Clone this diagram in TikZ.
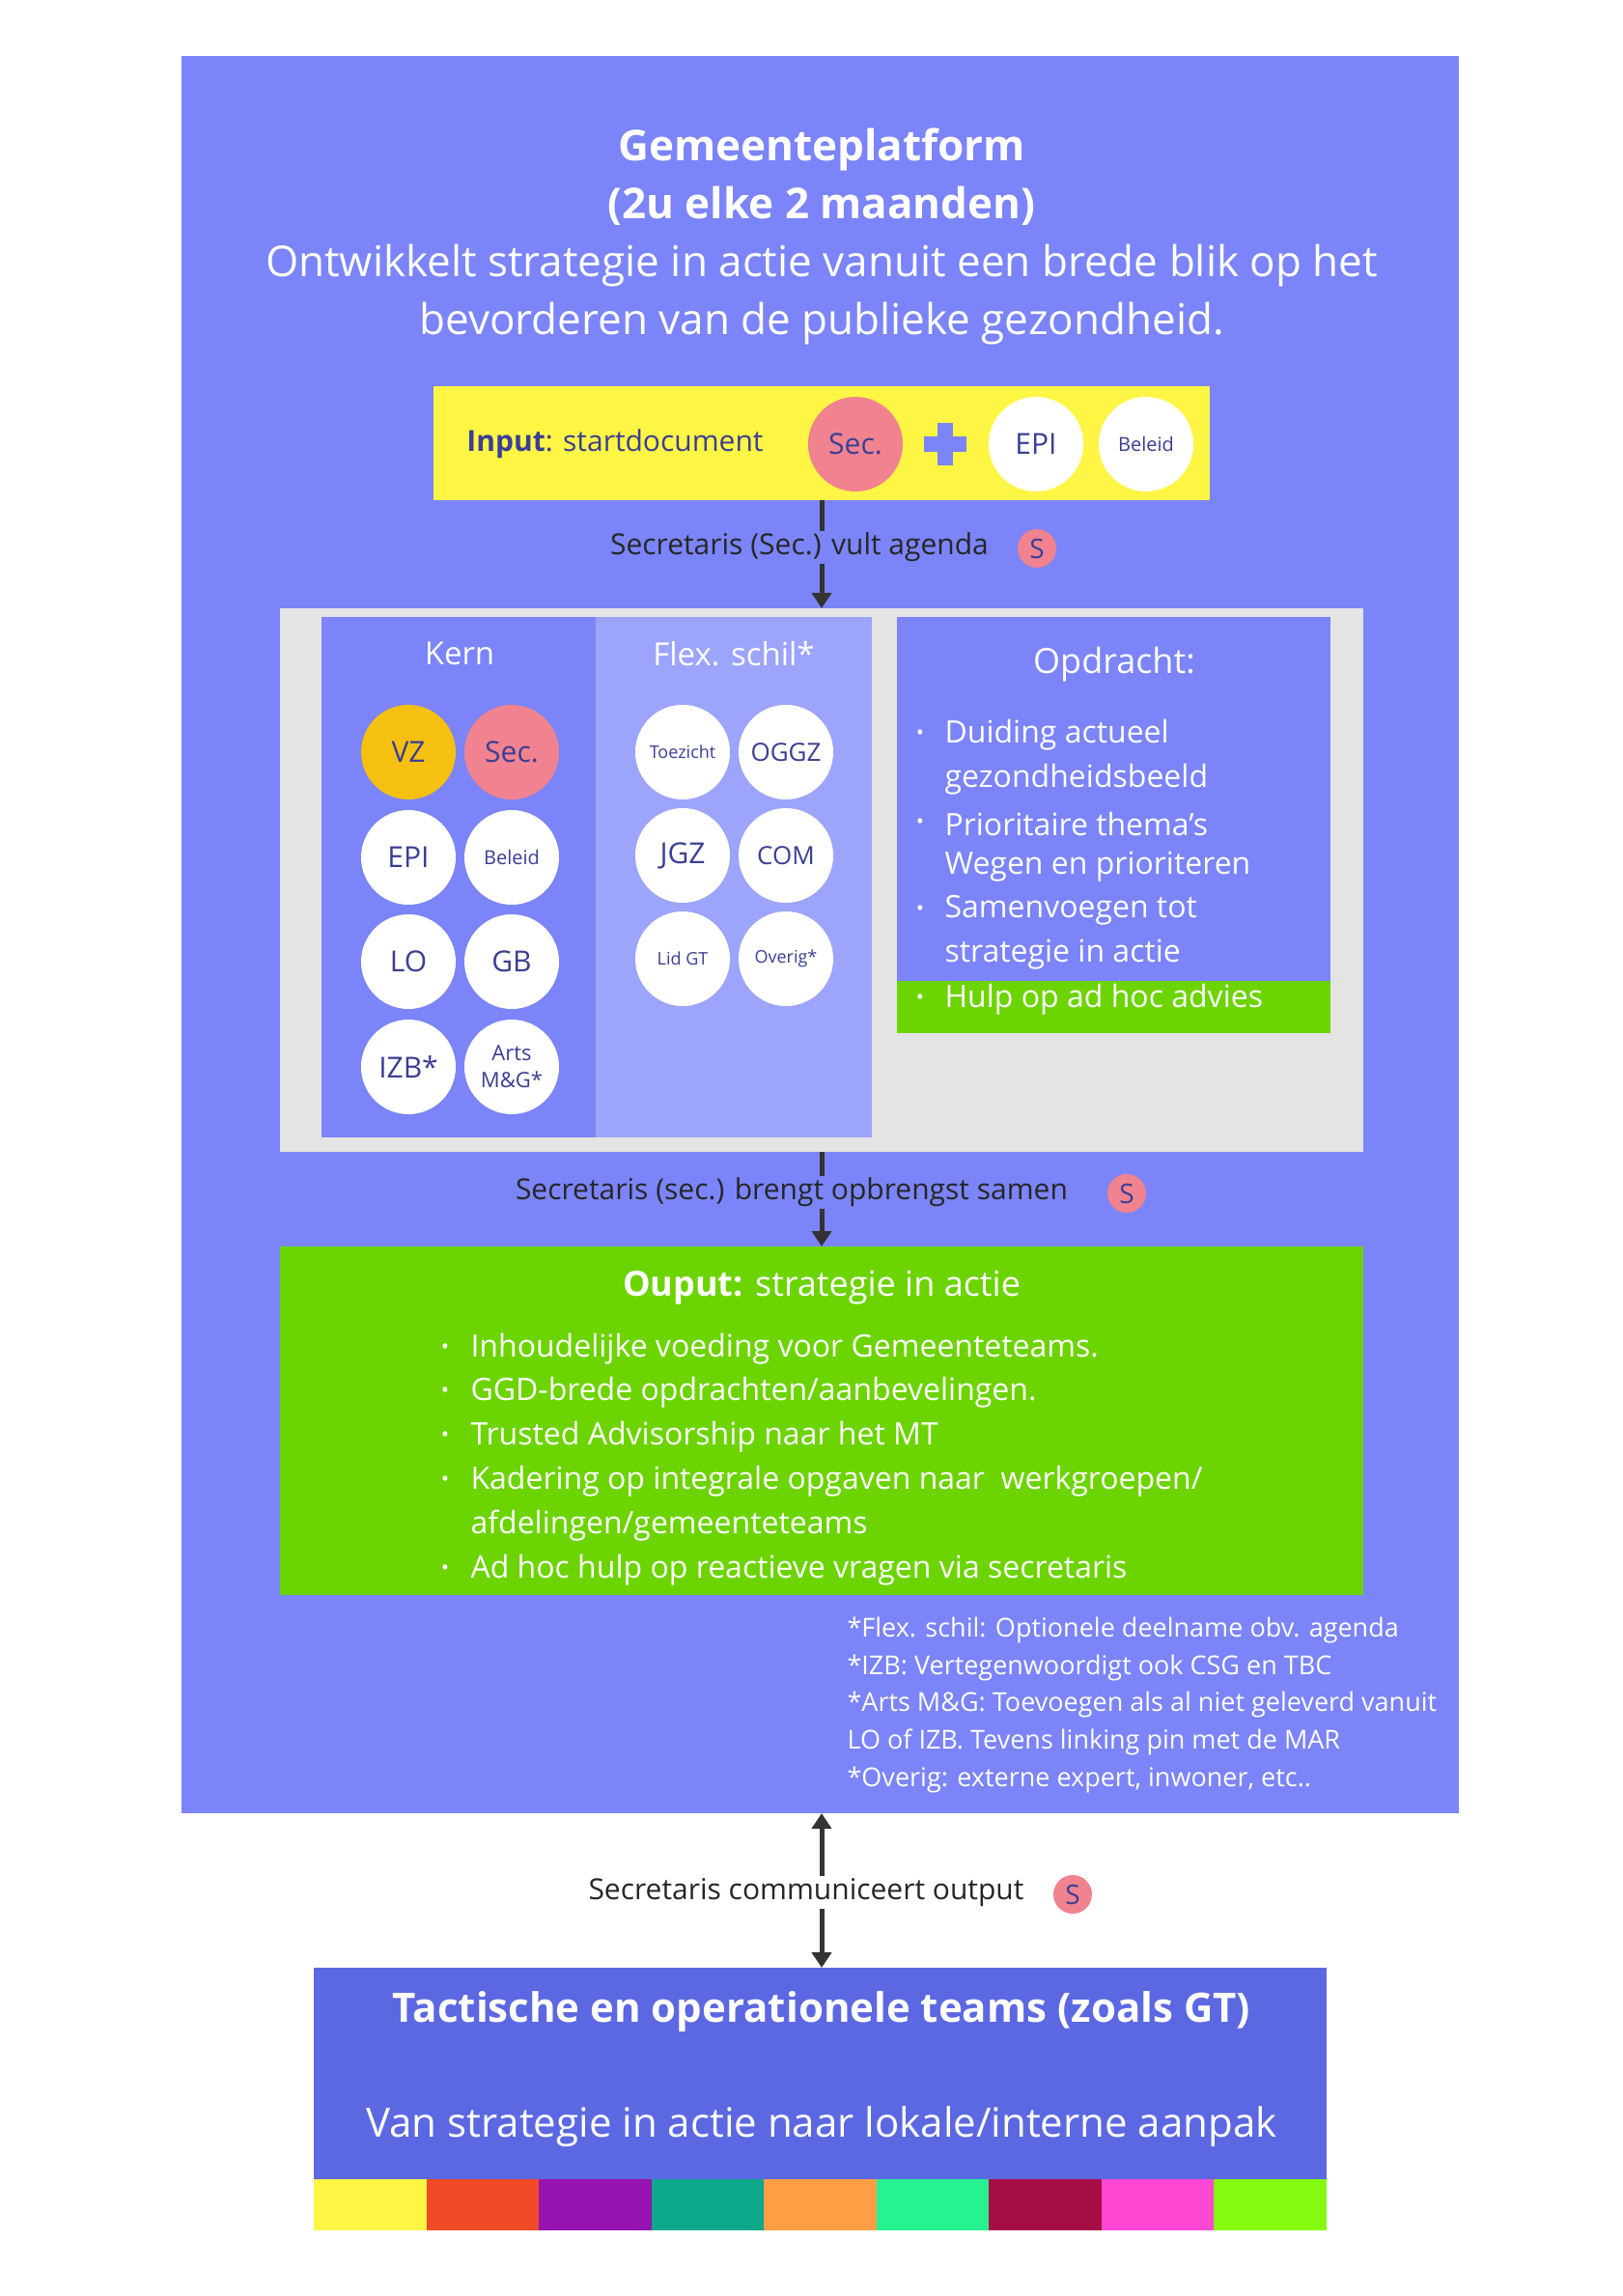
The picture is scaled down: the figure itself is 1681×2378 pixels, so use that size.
\documentclass[tikz,border=0pt]{standalone}
\usepackage{fontspec}
\setmainfont{Open Sans}
\usetikzlibrary{arrows.meta}
\definecolor{mainb}{HTML}{7B84F8}
\definecolor{flexb}{HTML}{9DA4FB}
\definecolor{grayb}{HTML}{E4E4E4}
\definecolor{yel}{HTML}{FFF544}
\definecolor{pinkc}{HTML}{F0838F}
\definecolor{gold}{HTML}{F5C010}
\definecolor{grn}{HTML}{6CD400}
\definecolor{botb}{HTML}{5C68E2}
\definecolor{dtxt}{HTML}{3A3F94}
\definecolor{s1}{HTML}{FFF544}\definecolor{s2}{HTML}{F04A26}\definecolor{s3}{HTML}{9613B0}
\definecolor{s4}{HTML}{0EA88A}\definecolor{s5}{HTML}{FF9E45}\definecolor{s6}{HTML}{26F291}
\definecolor{s7}{HTML}{A50E45}\definecolor{s8}{HTML}{FF47D4}\definecolor{s9}{HTML}{84FA0E}
\begin{document}
\begin{tikzpicture}[x=1pt,y=-1pt,
  circ/.style={circle,fill=white,minimum size=98pt,inner sep=0pt,text=dtxt,align=center,font=\fontsize{30}{34}\selectfont},
  sm/.style={font=\fontsize{20}{26}\selectfont},
  ssm/.style={font=\fontsize{18}{22}\selectfont},
  sbadge/.style={circle,fill=pinkc,minimum size=40pt,inner sep=0pt,text=dtxt,font=\fontsize{28}{30}\selectfont},
  lbl/.style={text=black!85,font=\fontsize{30}{34}\selectfont,inner sep=2pt},
  wt/.style={text=white,anchor=west,font=\fontsize{32}{36}\selectfont},
  arr/.style={line width=5pt,draw=black!80,-{Triangle[length=16pt,width=20pt]}},
  rect/.style={draw=none,inner sep=0pt}]
\useasboundingbox (0,0) rectangle (1681,2378);
\fill[white] (0,0) rectangle (1681,2378);
\fill[mainb] (188,58) rectangle (1511,1878);
\node[text=white,align=center,font=\fontsize{44}{60}\selectfont] (title) at (851,245)
 {\textbf{Gemeenteplatform}\\\textbf{(2u elke 2 maanden)}\\Ontwikkelt strategie in actie vanuit een brede blik op het\\bevorderen van de publieke gezondheid.};
% input
\node[rect,fill=yel,minimum width=804pt,minimum height=118pt] (inp) at (851,459) {};
\node[text=dtxt,font=\fontsize{30}{34}\selectfont] (inptxt) at (637,460) {\textbf{Input}: startdocument};
\node[circ,fill=pinkc] (isec) at (886,460) {Sec.};
\node[circ] (iepi) at (1073,460) {EPI};
\node[circ,sm] (ibel) at (1187,460) {Beleid};
\node[fill=mainb,minimum width=16pt,minimum height=44pt,inner sep=0pt] (plusv) at (979,460) {};
\node[fill=mainb,minimum width=44pt,minimum height=16pt,inner sep=0pt] (plush) at (979,460) {};
% gray
\node[rect,fill=grayb,minimum width=1122pt,minimum height=563pt] (gray) at (851,911.5) {};
\fill[mainb] (333,639) rectangle (617,1178);
\fill[flexb] (617,639) rectangle (903,1178);
\fill[mainb] (929,639) rectangle (1378,1016);
\fill[grn] (929,1016) rectangle (1378,1070);
\node[text=white,font=\fontsize{33}{36}\selectfont] (kern) at (476,677) {Kern};
\node[text=white,font=\fontsize{33}{36}\selectfont] (flex) at (760,677) {Flex. schil*};
\node[text=white,font=\fontsize{36}{40}\selectfont] (opd) at (1154,688) {Opdracht:};
\node[circ,fill=gold] (vz) at (423,779) {VZ};
\node[circ,fill=pinkc] (ksec) at (530,779) {Sec.};
\node[circ] (kepi) at (423,888) {EPI};
\node[circ,sm] (kbel) at (530,888) {Beleid};
\node[circ] (lo) at (423,996) {LO};
\node[circ] (gb) at (530,996) {GB};
\node[circ] (izb) at (423,1105) {IZB*};
\node[circ,font=\fontsize{22}{28}\selectfont] (arts) at (530,1105) {Arts\\M\&G*};
\node[circ,ssm] (toe) at (707,779) {Toezicht};
\node[circ,font=\fontsize{26}{30}\selectfont] (oggz) at (814,779) {OGGZ};
\node[circ] (jgz) at (707,886) {JGZ};
\node[circ,font=\fontsize{26}{30}\selectfont] (com) at (814,886) {COM};
\node[circ,ssm] (lid) at (707,993) {Lid GT};
\node[circ,ssm] (ove) at (814,993) {Overig*};
\foreach \y/\t/\b in {761/{Duiding actueel}/1,807/{gezondheidsbeeld}/0,853/{Prioritaire thema's}/1,898/{Wegen en prioriteren}/0,943/{Samenvoegen tot}/1,989/{strategie in actie}/0,1035/{Hulp op ad hoc advies}/1}{
  \node[wt] at (975,\y) {\t};
  \ifnum\b=1 \node[text=white,font=\fontsize{22}{24}\selectfont] at (953,\y) {•};\fi
}
% output
\node[rect,fill=grn,minimum width=1122pt,minimum height=361pt] (out) at (851,1471.5) {};
\node[text=white,font=\fontsize{36}{40}\selectfont] (outt) at (851,1334) {\textbf{Ouput:} strategie in actie};
\foreach \y/\t/\b in {1397/{Inhoudelijke voeding voor Gemeenteteams.}/1,1442/{GGD-brede opdrachten/aanbevelingen.}/1,1488/{Trusted Advisorship naar het MT}/1,1534/{Kadering op integrale opgaven naar\ \ werkgroepen/}/1,1580/{afdelingen/gemeenteteams}/0,1626/{Ad hoc hulp op reactieve vragen via secretaris}/1}{
  \node[wt] at (484,\y) {\t};
  \ifnum\b=1 \node[text=white,font=\fontsize{22}{24}\selectfont] at (461,\y) {•};\fi
}
\foreach \y/\t in {1688/{*Flex. schil: Optionele deelname obv. agenda},1727/{*IZB: Vertegenwoordigt ook CSG en TBC},1765/{*Arts M\&G: Toevoegen als al niet geleverd vanuit},1804/{LO of IZB. Tevens linking pin met de MAR},1843/{*Overig: externe expert, inwoner, etc..}}{
  \node[text=white,anchor=west,font=\fontsize{27}{30}\selectfont] at (874,\y) {\t};
}
% bottom
\node[rect,fill=botb,minimum width=1049pt,minimum height=219pt] (bot) at (849.5,2147.5) {};
\node[text=white,font=\fontsize{42}{46}\selectfont] (bt1) at (851,2084) {\textbf{Tactische en operationele teams (zoals GT)}};
\node[text=white,font=\fontsize{42}{46}\selectfont] (bt2) at (851,2203) {Van strategie in actie naar lokale/interne aanpak};
\foreach \i/\c in {0/s1,1/s2,2/s3,3/s4,4/s5,5/s6,6/s7,7/s8,8/s9}{
  \fill[\c] ({325+\i*116.56},2257) rectangle ({325+(\i+1)*116.56},2310);
}
% arrows + labels
\node[lbl,fill=mainb] (l1) at (828,567) {Secretaris (Sec.) vult agenda};
\node[sbadge] (b1) at (1074,568) {S};
\node[lbl,fill=mainb] (l2) at (820,1235) {Secretaris (sec.) brengt opbrengst samen};
\node[sbadge] (b2) at (1167,1236) {S};
\node[lbl,fill=white] (l3) at (835,1960) {Secretaris communiceert output};
\node[sbadge] (b3) at (1111,1962) {S};
\coordinate (a1s) at (851,518); \coordinate (a1e) at (851,630);
\coordinate (a2s) at (851,1193); \coordinate (a2e) at (851,1291);
\coordinate (a3s) at (851,1878); \coordinate (a3e) at (851,2038);
\draw[line width=5pt,draw=black!80] (a1s) -- (l1.north -| a1s);
\draw[arr] (l1.south -| a1s) -- (a1e);
\draw[line width=5pt,draw=black!80] (a2s) -- (l2.north -| a2s);
\draw[arr] (l2.south -| a2s) -- (a2e);
\draw[arr] (l3.north -| a3s) -- (a3s);
\draw[arr] (l3.south -| a3s) -- (a3e);
\end{tikzpicture}
\end{document}
